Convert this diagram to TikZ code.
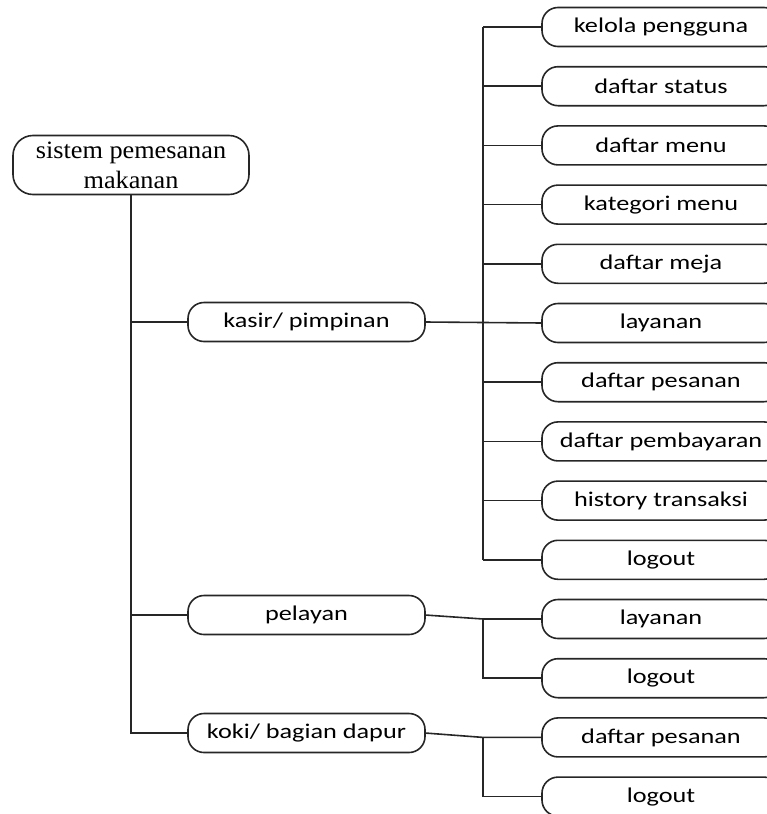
\documentclass[tikz,border=0pt]{standalone}
\usepackage{fontspec}
\setmainfont{Carlito}[FakeStretch=1.25]
\newfontfamily\rootfont{Liberation Serif}[FakeStretch=1.05]
\begin{document}
\begin{tikzpicture}[x=1pt,y=-1pt,
  every node/.style={inner sep=0pt,outer sep=0pt},
  box/.style={draw=black!85,line width=1.6pt,rounded corners=16pt,minimum height=39pt,
    font=\fontsize{21}{24}\selectfont},
  midbox/.style={box,minimum width=237pt},
  leafbox/.style={box,minimum width=238pt},
  rootbox/.style={draw=black!85,line width=1.6pt,rounded corners=20pt,minimum width=236pt,
    minimum height=59pt,align=center,font=\rootfont\fontsize{25}{30}\selectfont},
  link/.style={draw=black!85,line width=1.6pt}]
\useasboundingbox (0,0) rectangle (767,814);
\node[rootbox] (root) at (131,165) {sistem pemesanan\\makanan};
\node[midbox] (kasir) at (306.5,322) {kasir/ pimpinan};
\node[midbox] (pelayan) at (306.5,615) {pelayan};
\node[midbox] (koki) at (306.5,733) {koki/ bagian dapur};
\def\ry#1{27+59.2*#1}
\node[leafbox] (k1) at (661,{\ry{0}}) {kelola pengguna};
\node[leafbox] (k2) at (661,{\ry{1}}) {daftar status};
\node[leafbox] (k3) at (661,{\ry{2}}) {daftar menu};
\node[leafbox] (k4) at (661,{\ry{3}}) {kategori menu};
\node[leafbox] (k5) at (661,{\ry{4}}) {daftar meja};
\node[leafbox] (k6) at (661,{\ry{5}}) {layanan};
\node[leafbox] (k7) at (661,{\ry{6}}) {daftar pesanan};
\node[leafbox] (k8) at (661,{\ry{7}}) {daftar pembayaran};
\node[leafbox] (k9) at (661,{\ry{8}}) {history transaksi};
\node[leafbox] (k10) at (661,{\ry{9}}) {logout};
\node[leafbox] (p1) at (661,{\ry{10}}) {layanan};
\node[leafbox] (p2) at (661,{\ry{11}}) {logout};
\node[leafbox] (d1) at (661,{\ry{12}}) {daftar pesanan};
\node[leafbox] (d2) at (661,{\ry{13}}) {logout};
\coordinate (bus) at (483,0);
% trunk
\draw[link] (root.south) -- (root.south |- koki.west) -- (koki.west);
\draw[link] (root.south |- kasir.west) -- (kasir.west);
\draw[link] (root.south |- pelayan.west) -- (pelayan.west);
% kasir bus
\draw[link] (bus |- k1.west) -- (bus |- k10.west);
\foreach \n in {1,2,3,4,5,7,8,9,10} {\draw[link] (bus |- k\n.west) -- (k\n.west);}
\draw[link] (kasir.east) -- (k6.west);
% pelayan bus
\draw[link] (pelayan.east) -- (bus |- p1.west) -- (p1.west);
\draw[link] (bus |- p1.west) -- (bus |- p2.west) -- (p2.west);
% koki bus
\draw[link] (koki.east) -- (bus |- d1.west) -- (d1.west);
\draw[link] (bus |- d1.west) -- (bus |- d2.west) -- (d2.west);
\end{tikzpicture}
\end{document}
